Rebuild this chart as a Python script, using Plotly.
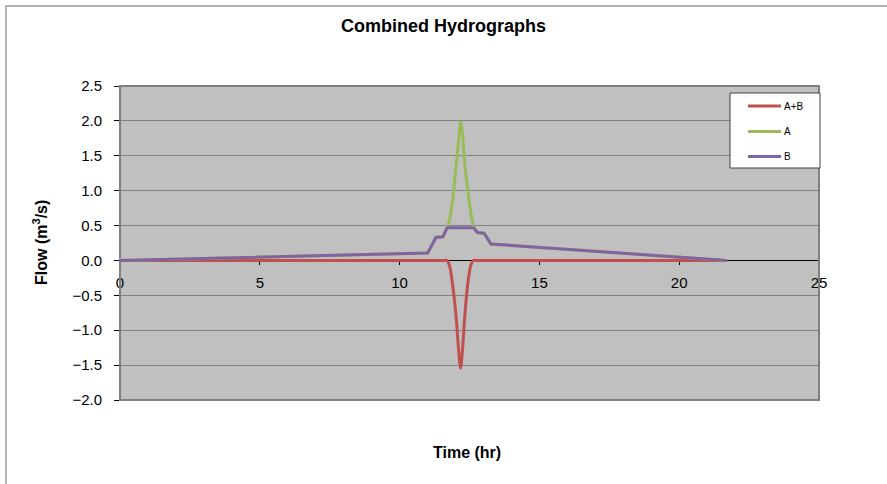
import plotly.graph_objects as go

# ---- data ----
time_B = [0, 11.0, 11.3, 11.55, 11.7, 12.65, 12.78, 13.02, 13.27, 21.7]
flow_B = [0, 0.105, 0.33, 0.34, 0.47, 0.47, 0.40, 0.39, 0.235, 0]

time_A = [0, 11.0, 11.3, 11.55, 11.7, 11.8, 11.9, 12.02, 12.12, 12.18, 12.25, 12.34, 12.48, 12.58, 12.66, 12.78, 13.02, 13.27, 21.7]
flow_A = [0, 0.105, 0.33, 0.34, 0.47, 0.6, 0.867, 1.34, 1.82, 2.0, 1.82, 1.34, 0.867, 0.6, 0.47, 0.40, 0.39, 0.235, 0]

time_AB = [0, 11.6, 11.7, 11.8, 11.89, 12.02, 12.11, 12.18, 12.25, 12.33, 12.44, 12.54, 12.64, 12.74, 21.7]
flow_AB = [0, 0, 0, -0.1, -0.33, -0.80, -1.28, -1.545, -1.28, -0.80, -0.33, -0.08, 0, 0, 0]

series_names = ["A+B", "A", "B"]
series_colors = ["#C0504D", "#9BBB59", "#8064A2"]
series_shapes = ["spline", "linear", "linear"]
x_ticks = [0, 5, 10, 15, 20, 25]

FONT = "Liberation Sans, Arial, sans-serif"

fig = go.Figure()
for name, xs, ys, col, shp in zip(series_names, [time_AB, time_A, time_B],
                                  [flow_AB, flow_A, flow_B], series_colors, series_shapes):
    fig.add_trace(go.Scatter(x=xs, y=ys, name=name, mode="lines",
                             line=dict(color=col, width=3, shape=shp, smoothing=0.8),
                             showlegend=False))

# plot area geometry (px)
L, R, T, B_ = 120, 819, 86, 400
W, H = 887, 484
pw, ph = R - L, B_ - T

def px(x):
    return (x - L) / pw

def py(y):
    return (B_ - y) / ph

shapes = []
# outer chart border (light gray)
shapes.append(dict(type="rect", xref="paper", yref="paper",
                   x0=px(6), x1=px(895), y0=py(6), y1=py(495),
                   line=dict(color="#B4B4B4", width=2), fillcolor="rgba(0,0,0,0)", layer="below"))
# plot area border (gray)
shapes.append(dict(type="rect", xref="paper", yref="paper", x0=0, x1=1, y0=0, y1=1,
                   line=dict(color="#808080", width=2), fillcolor="rgba(0,0,0,0)", layer="above"))

# manual legend
lx0, lx1, ly0, ly1 = 730, 820, 93, 168
shapes.append(dict(type="rect", xref="paper", yref="paper",
                   x0=px(lx0), x1=px(lx1), y0=py(ly1), y1=py(ly0),
                   line=dict(color="#404040", width=1), fillcolor="white", layer="above"))
annotations = []
item_y = [106, 131.5, 156.5]
for name, col, yy in zip(series_names, series_colors, item_y):
    shapes.append(dict(type="line", xref="paper", yref="paper",
                       x0=px(748), x1=px(781), y0=py(yy), y1=py(yy),
                       line=dict(color=col, width=3), layer="above"))
    annotations.append(dict(xref="paper", yref="paper", x=px(782), y=py(yy),
                            text=name, showarrow=False, xanchor="left", yanchor="middle",
                            font=dict(family=FONT, size=10, color="black")))

# axis titles and chart title
annotations.append(dict(xref="paper", yref="paper", x=px(443), y=py(26), text="<b>Combined Hydrographs</b>",
                        showarrow=False, xanchor="center", yanchor="middle",
                        font=dict(family=FONT, size=18, color="black")))
annotations.append(dict(xref="paper", yref="paper", x=px(467), y=py(452), text="<b>Time (hr)</b>",
                        showarrow=False, xanchor="center", yanchor="middle",
                        font=dict(family=FONT, size=16, color="black")))
annotations.append(dict(xref="paper", yref="paper", x=px(40), y=py(243),
                        text="<b>Flow (m<sup>3</sup>/s)</b>", textangle=-90,
                        showarrow=False, xanchor="center", yanchor="middle",
                        font=dict(family=FONT, size=16, color="black")))

fig.update_layout(
    width=W, height=H,
    margin=dict(l=L, r=W - R, t=T, b=H - B_, pad=0),
    paper_bgcolor="white",
    plot_bgcolor="#C0C0C0",
    shapes=shapes,
    annotations=annotations,
    showlegend=False,
    font=dict(family=FONT, size=15, color="black"),
)
fig.update_xaxes(range=[0, 25], tickvals=x_ticks, ticktext=[str(v) for v in x_ticks],
                 showgrid=False, zeroline=False,
                 showline=True, linecolor="black", linewidth=1,
                 anchor="free", position=2 / 4.5, layer="below traces",
                 ticks="outside", ticklen=4, tickcolor="black", ticklabelstandoff=5,
                 tickfont=dict(family=FONT, size=15, color="black"))
fig.update_yaxes(range=[-2, 2.5], dtick=0.5, tick0=0, tickformat=".1f",
                 showgrid=True, gridcolor="#808080", gridwidth=1,
                 zeroline=False, layer="below traces",
                 showline=True, linecolor="black", linewidth=1,
                 ticks="outside", ticklen=5, tickcolor="black", ticklabelstandoff=9,
                 tickfont=dict(family=FONT, size=15, color="black"))

fig.write_html("out.html")
